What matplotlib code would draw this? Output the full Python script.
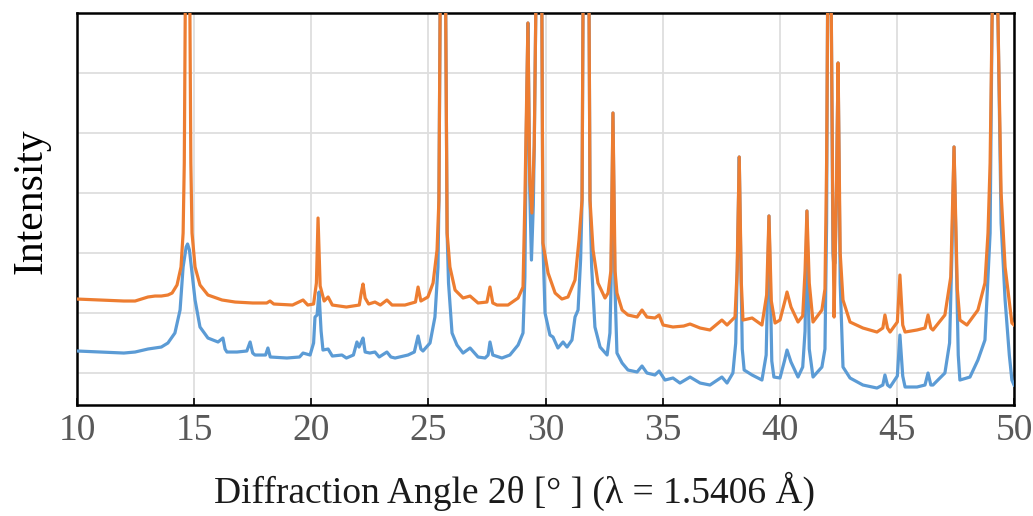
import matplotlib
matplotlib.use("Agg")
import matplotlib.pyplot as plt

# XRD pattern: (2theta [deg], intensity [a.u.])
orange_pts = [
    (10.00, 2233), (11.00, 2217), (12.00, 2200), (12.48, 2200), (13.03, 2267),
    (13.33, 2283), (13.60, 2283), (13.88, 2300), (14.06, 2333), (14.27, 2467),
    (14.44, 2767), (14.53, 3333), (14.58, 4500), (14.62, 7000), (14.72, 9500),
    (14.82, 7000), (14.86, 4500), (14.91, 3333), (15.04, 2767), (15.25, 2467),
    (15.59, 2300), (16.19, 2217), (16.75, 2183), (17.50, 2167), (18.10, 2167),
    (18.24, 2200), (18.40, 2150), (19.20, 2133), (19.65, 2217), (19.85, 2133),
    (20.10, 2150), (20.22, 2500), (20.29, 3583), (20.38, 2450), (20.55, 2200),
    (20.72, 2267), (20.90, 2133), (21.50, 2100), (22.05, 2133), (22.14, 2350),
    (22.21, 2483), (22.30, 2250), (22.45, 2150), (22.72, 2183), (22.95, 2133),
    (23.23, 2217), (23.45, 2133), (24.00, 2133), (24.45, 2183), (24.56, 2433),
    (24.68, 2200), (24.98, 2267), (25.20, 2500), (25.37, 3050), (25.45, 3883),
    (25.50, 7000), (25.62, 9500), (25.74, 7000), (25.80, 3333), (25.92, 2767),
    (26.14, 2383), (26.48, 2250), (26.78, 2283), (27.12, 2167), (27.50, 2183),
    (27.63, 2433), (27.75, 2167), (27.93, 2133), (28.40, 2133), (28.83, 2250),
    (29.04, 2433), (29.12, 3883), (29.25, 6833), (29.33, 4200), (29.42, 3667),
    (29.52, 4800), (29.60, 7500), (29.72, 9500), (29.84, 7500), (29.89, 3167),
    (30.11, 2667), (30.41, 2333), (30.70, 2233), (30.96, 2267), (31.26, 2550),
    (31.43, 3217), (31.56, 3883), (31.60, 7000), (31.73, 9500), (31.86, 7000),
    (31.90, 3883), (32.03, 3050), (32.24, 2500), (32.54, 2250), (32.67, 2333),
    (32.79, 2700), (32.88, 5333), (32.97, 2700), (33.05, 2333), (33.27, 2050),
    (33.52, 1967), (33.91, 1933), (34.12, 2050), (34.33, 1933), (34.67, 1917),
    (34.85, 1967), (35.02, 1800), (35.44, 1767), (35.90, 1783), (36.17, 1817),
    (36.60, 1750), (37.02, 1717), (37.53, 1883), (37.75, 1800), (38.09, 1933),
    (38.18, 2700), (38.27, 4600), (38.36, 2500), (38.43, 1883), (38.82, 1917),
    (39.24, 1800), (39.44, 2300), (39.54, 3617), (39.64, 2200), (39.80, 1833),
    (40.01, 1883), (40.22, 2200), (40.31, 2350), (40.48, 2100), (40.78, 1850),
    (40.98, 1950), (41.08, 2700), (41.16, 3700), (41.26, 2500), (41.42, 1850),
    (41.80, 2050), (41.93, 2400), (42.00, 4500), (42.04, 7000), (42.12, 9500),
    (42.20, 7000), (42.27, 3500), (42.32, 1933), (42.42, 4000), (42.49, 6167),
    (42.58, 3000), (42.70, 2217), (43.00, 1850), (43.55, 1750), (44.15, 1683),
    (44.40, 1750), (44.49, 1967), (44.60, 1750), (44.71, 1683), (45.02, 1850),
    (45.13, 2633), (45.25, 1800), (45.35, 1683), (45.86, 1717), (46.20, 1750),
    (46.33, 1967), (46.45, 1750), (46.54, 1717), (47.05, 1967), (47.30, 2600),
    (47.44, 4767), (47.58, 2400), (47.69, 1883), (47.99, 1800), (48.46, 2050),
    (48.76, 2500), (48.89, 3333), (48.98, 4500), (49.06, 6800), (49.19, 9500),
    (49.32, 6800), (49.45, 4000), (49.62, 2767), (49.91, 1833), (50.00, 1800),
]

blue_pts = [
    (10.00, 1367), (11.00, 1350), (12.00, 1333), (12.48, 1350), (13.03, 1400),
    (13.33, 1417), (13.60, 1433), (13.88, 1500), (14.18, 1667), (14.40, 2050),
    (14.53, 2767), (14.66, 3100), (14.72, 3150), (14.80, 3050), (15.04, 2217),
    (15.25, 1767), (15.59, 1583), (16.02, 1517), (16.23, 1583), (16.32, 1400),
    (16.40, 1350), (16.83, 1350), (17.25, 1367), (17.39, 1517), (17.50, 1333),
    (17.60, 1300), (18.05, 1300), (18.15, 1417), (18.25, 1267), (18.96, 1250),
    (19.50, 1267), (19.65, 1333), (19.95, 1300), (20.10, 1500), (20.16, 1933),
    (20.25, 1967), (20.33, 2350), (20.42, 1700), (20.50, 1383), (20.72, 1400),
    (20.90, 1283), (21.31, 1300), (21.50, 1250), (21.80, 1300), (21.95, 1517),
    (22.04, 1433), (22.12, 1500), (22.21, 1583), (22.30, 1350), (22.50, 1333),
    (22.72, 1350), (22.90, 1267), (23.23, 1350), (23.40, 1267), (23.58, 1250),
    (24.13, 1300), (24.40, 1350), (24.56, 1617), (24.68, 1400), (24.77, 1367),
    (25.07, 1500), (25.28, 1933), (25.41, 2767), (25.45, 3883), (25.50, 7000),
    (25.62, 9500), (25.74, 7000), (25.80, 3333), (25.86, 2500), (26.01, 1667),
    (26.22, 1467), (26.48, 1333), (26.78, 1417), (27.12, 1267), (27.42, 1250),
    (27.55, 1300), (27.63, 1517), (27.75, 1300), (28.14, 1250), (28.48, 1300),
    (28.83, 1467), (29.04, 1667), (29.12, 2600), (29.18, 5000), (29.25, 6833),
    (29.33, 4000), (29.40, 2883), (29.48, 3800), (29.52, 4800), (29.60, 7500),
    (29.72, 9500), (29.84, 7500), (29.89, 3167), (29.98, 2000), (30.19, 1633),
    (30.32, 1600), (30.53, 1417), (30.75, 1517), (30.92, 1433), (31.13, 1550),
    (31.26, 1933), (31.39, 2050), (31.50, 2900), (31.56, 3883), (31.60, 7000),
    (31.73, 9500), (31.86, 7000), (31.90, 3883), (31.97, 2767), (32.11, 1767),
    (32.33, 1433), (32.63, 1300), (32.75, 1667), (32.80, 2500), (32.88, 5333),
    (32.96, 2500), (33.05, 1333), (33.27, 1167), (33.52, 1050), (33.91, 1017),
    (34.12, 1117), (34.33, 1000), (34.67, 967), (34.85, 1033), (35.10, 883),
    (35.44, 917), (35.74, 833), (36.17, 933), (36.60, 833), (37.02, 800),
    (37.53, 933), (37.75, 833), (38.00, 1000), (38.12, 1500), (38.20, 3000),
    (38.27, 4600), (38.34, 2800), (38.40, 1400), (38.48, 1050), (38.82, 967),
    (39.24, 883), (39.42, 1300), (39.46, 2000), (39.54, 3617), (39.62, 2000),
    (39.66, 1200), (39.75, 933), (40.01, 917), (40.20, 1200), (40.31, 1383),
    (40.48, 1183), (40.78, 933), (40.98, 1100), (41.08, 1700), (41.16, 3700),
    (41.26, 1400), (41.42, 933), (41.80, 1100), (41.93, 1400), (42.00, 3500),
    (42.04, 7000), (42.12, 9500), (42.20, 7000), (42.27, 3000), (42.30, 2833),
    (42.36, 2833), (42.42, 4000), (42.49, 6167), (42.58, 2500), (42.70, 1100),
    (43.00, 917), (43.55, 800), (44.15, 750), (44.40, 800), (44.49, 967),
    (44.60, 800), (44.71, 767), (45.02, 950), (45.13, 1633), (45.25, 950),
    (45.35, 767), (45.86, 767), (46.20, 800), (46.33, 1000), (46.45, 800),
    (46.54, 800), (47.05, 1000), (47.25, 1500), (47.35, 3000), (47.44, 4767),
    (47.53, 3000), (47.62, 1300), (47.69, 883), (48.12, 933), (48.46, 1217),
    (48.76, 1550), (48.98, 3333), (49.06, 6800), (49.19, 9500), (49.32, 6800),
    (49.45, 3500), (49.62, 2217), (49.80, 1300), (49.91, 883), (50.00, 800),
]

x_ticks = [10, 15, 20, 25, 30, 35, 40, 45, 50]
y_grid = [1000, 2000, 3000, 4000, 5000, 6000, 7000]

ORANGE = "#ED7D31"
BLUE = "#5B9BD5"
SERIF = ["Liberation Serif", "DejaVu Serif"]

plt.rcParams["font.family"] = SERIF

fig = plt.figure(figsize=(10.33, 5.16), dpi=100, facecolor="white")
ax = fig.add_axes([77 / 1033, 1 - 405 / 516, 937 / 1033, 392 / 516])

bx, by = zip(*blue_pts)
ox, oy = zip(*orange_pts)
ax.plot(bx, by, color=BLUE, linewidth=2.3, solid_joinstyle="round", zorder=3)
ax.plot(ox, oy, color=ORANGE, linewidth=2.3, solid_joinstyle="round", zorder=4)

ax.set_xlim(10, 50)
ax.set_ylim(467, 7000)
ax.set_xticks(x_ticks)
ax.set_yticks(y_grid)
ax.set_yticklabels([])
ax.tick_params(axis="y", length=0)
ax.tick_params(axis="x", direction="in", length=5, width=1.2, color="black",
               pad=6, labelsize=27, labelcolor="#595959")
ax.grid(True, color="#dedede", linewidth=1.3, zorder=0)
ax.set_axisbelow(True)
for spine in ax.spines.values():
    spine.set_linewidth(1.8)
    spine.set_color("black")

fig.text(515 / 1033, 1 - 503 / 516, "Diffraction Angle 2θ [° ] (λ = 1.5406 Å)",
         ha="center", va="baseline", fontsize=27, color="#1a1a1a")
fig.text(31 / 1033, 1 - 201 / 516, "Intensity", rotation=90,
         ha="center", va="center", fontsize=30, color="black")

fig.savefig("out.png", dpi=100, facecolor=fig.get_facecolor())
